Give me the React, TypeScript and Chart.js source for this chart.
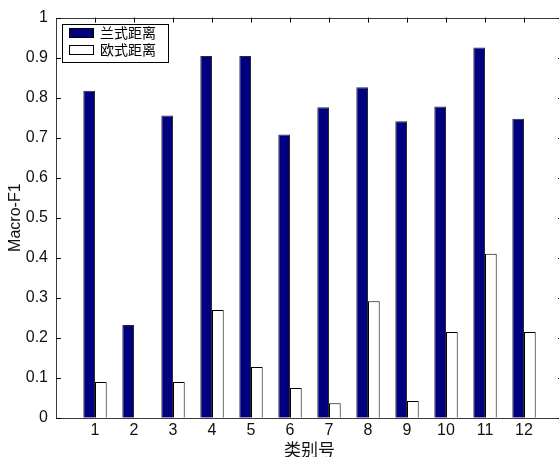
import React, { useEffect, useRef } from "react";
import { Chart, registerables } from "chart.js";

Chart.register(...registerables);

const categories = ["1", "2", "3", "4", "5", "6", "7", "8", "9", "10", "11", "12"];
const lanshiValues = [0.817, 0.232, 0.755, 0.904, 0.904, 0.708, 0.776, 0.826, 0.741, 0.778, 0.925, 0.747];
const oushiValues = [0.089, 0, 0.089, 0.269, 0.127, 0.074, 0.036, 0.291, 0.042, 0.214, 0.41, 0.214];
const seriesNames = ["兰式距离", "欧式距离"];
const yTicks = [0, 0.1, 0.2, 0.3, 0.4, 0.5, 0.6, 0.7, 0.8, 0.9, 1];
const xTitle = "类别号";
const yTitle = "Macro-F1";

const NUM_FONT = "'Liberation Sans Narrow', 'Liberation Sans', Arial, sans-serif";
const CJK_FONT = "'Noto Sans CJK SC', 'Noto Sans', sans-serif";
const AXIS_COLOR = "#3a3a3a";

const boxPlugin = {
  id: "boxAndTicks",
  afterDatasetsDraw(chart: any) {
    const { ctx, chartArea } = chart;
    const { left, right, top, bottom } = chartArea;
    const xs = chart.scales.x;
    const ys = chart.scales.y;
    ctx.save();
    ctx.strokeStyle = AXIS_COLOR;
    ctx.lineWidth = 1;
    ctx.beginPath();
    ctx.rect(Math.round(left) + 0.5, Math.round(top) + 0.5, Math.round(right - left), Math.round(bottom - top));
    ctx.stroke();
    ctx.strokeStyle = "#000";
    ctx.beginPath();
    const tl = 5;
    yTicks.forEach((v) => {
      const y = Math.round(ys.getPixelForValue(v)) + 0.5;
      ctx.moveTo(left, y);
      ctx.lineTo(left + tl, y);
      ctx.moveTo(right, y);
      ctx.lineTo(right - tl, y);
    });
    categories.forEach((_, i) => {
      const x = Math.round(xs.getPixelForValue(i + 1)) + 0.5;
      ctx.moveTo(x, top);
      ctx.lineTo(x, top + tl);
    });
    ctx.stroke();
    ctx.restore();
  },
  afterDraw(chart: any) {
    const { ctx } = chart;
    const bx = 62.5, by = 24.5, bw = 106, bh = 38;
    ctx.save();
    ctx.fillStyle = "#fff";
    ctx.fillRect(bx, by, bw, bh);
    ctx.strokeStyle = "#000";
    ctx.lineWidth = 1;
    ctx.strokeRect(bx, by, bw, bh);
    const rows = [33, 50];
    chart.data.datasets.forEach((ds: any, i: number) => {
      const cy = rows[i];
      ctx.fillStyle = ds.backgroundColor;
      ctx.fillRect(69.5, cy - 4.5, 24, 9);
      ctx.strokeStyle = "#000";
      ctx.strokeRect(69.5, cy - 4.5, 24, 9);
      ctx.fillStyle = "#000";
      ctx.font = "14px " + CJK_FONT;
      ctx.textBaseline = "middle";
      ctx.textAlign = "left";
      ctx.fillText(ds.label, 100, cy);
    });
    ctx.restore();
  },
};

export default function App() {
  const ref = useRef<HTMLCanvasElement>(null);
  useEffect(() => {
    if (!ref.current) return;
    const chart = new Chart(ref.current, {
      type: "bar",
      data: {
        datasets: [
          {
            label: seriesNames[0],
            data: lanshiValues.map((v, i) => ({ x: i + 1, y: v })),
            backgroundColor: "#000080",
            borderColor: "#2a2a2a",
            borderWidth: 1,
            categoryPercentage: 0.6,
            barPercentage: 1,
          },
          {
            label: seriesNames[1],
            data: oushiValues.map((v, i) => ({ x: i + 1, y: v })),
            backgroundColor: "#ffffff",
            borderColor: "#000000",
            borderWidth: 1,
            categoryPercentage: 0.6,
            barPercentage: 1,
          },
        ],
      },
      options: {
        animation: false,
        responsive: false,
        layout: { padding: { top: 17, right: 12, left: 0, bottom: 0 } },
        plugins: { legend: { display: false }, tooltip: { enabled: false } },
        scales: {
          x: {
            type: "linear",
            min: 0,
            max: 13,
            offset: false,
            grid: { display: false, drawTicks: false },
            border: { display: false },
            afterBuildTicks: (scale: any) => {
              scale.ticks = categories.map((_, i) => ({ value: i + 1 }));
            },
            ticks: {
              padding: 3,
              color: "#111",
              autoSkip: false,
              maxRotation: 0,
              font: { family: NUM_FONT, size: 16 },
              callback: (v: any) => categories[Number(v) - 1] ?? "",
            },
            title: {
              display: true,
              text: xTitle,
              color: "#111",
              font: { family: CJK_FONT, size: 17 },
              padding: { top: 0, bottom: 0 },
            },
            afterFit: (scale: any) => {
              scale.height = 42.3;
            },
          },
          y: {
            min: 0,
            max: 1,
            grid: { display: false, drawTicks: false },
            border: { display: false },
            afterBuildTicks: (scale: any) => {
              scale.ticks = yTicks.map((v) => ({ value: v }));
            },
            ticks: {
              padding: 8,
              color: "#111",
              font: { family: NUM_FONT, size: 16 },
              callback: (v: any) => String(Number(Number(v).toFixed(1))),
            },
            title: {
              display: true,
              text: yTitle,
              color: "#111",
              font: { family: NUM_FONT, size: 16 },
              padding: { top: 6, bottom: 0 },
            },
            afterFit: (scale: any) => {
              scale.width = 56;
            },
          },
        },
      },
      plugins: [boxPlugin],
    } as any);
    return () => chart.destroy();
  }, []);
  return (
    <div style={{ position: "fixed", left: 0, top: 0, width: 559, height: 457, overflow: "hidden", background: "#fff" }}>
      <canvas ref={ref} width={575} height={460} style={{ display: "block", width: 575, height: 460 }} />
    </div>
  );
}
